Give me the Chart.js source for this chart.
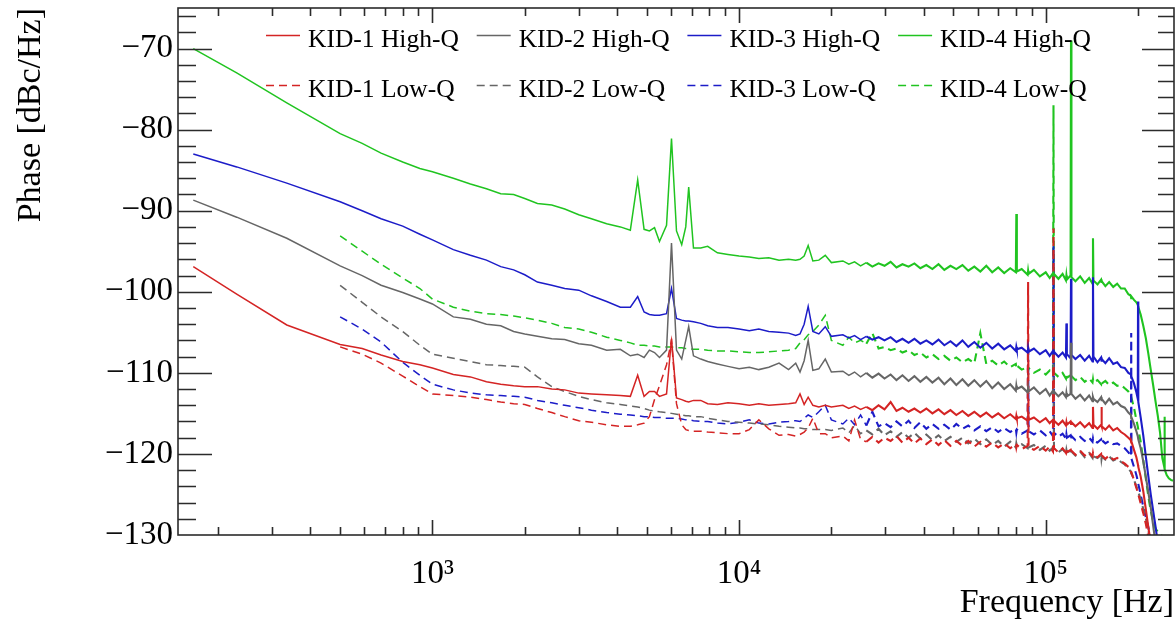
<!DOCTYPE html>
<html>
<head>
<meta charset="utf-8">
<title>Phase noise spectra</title>
<script src="https://cdn.jsdelivr.net/npm/chart.js@4/dist/chart.umd.min.js"></script>
<style>
  html, body { margin: 0; padding: 0; background: #ffffff; }
  #wrap { width: 1176px; height: 620px; position: relative; }
</style>
</head>
<body>
<div id="wrap"><canvas id="psd" width="1176" height="620"></canvas></div>
<script>
// Frequency grid shared by all spectra [Hz]
const freqHz = [
  166, 230, 335, 500, 590, 680, 800, 910, 1000, 1170,
  1330, 1500, 1670, 1840, 2000, 2200, 2450, 2700, 3000, 3300,
  3700, 4100, 4420, 4670, 4900, 5100, 5300, 5500, 5800, 6020,
  6250, 6500, 6700, 6850, 7100, 7500, 7900, 8500, 9200, 10000,
  10800, 11600, 12500, 13500, 14500, 15300, 15800, 16300, 16800, 17400,
  18200, 19100, 20000, 21800, 22800, 23800, 24900, 26000, 27200, 28500,
  29800, 31200, 32600, 34100, 35700, 37300, 39000, 40800, 42700, 44700,
  46700, 48900, 51100, 53500, 55900, 58500, 61200, 64000, 66900, 70000,
  73200, 76600, 79900, 80200, 80500, 83500, 87300, 87600, 87900, 91500,
  95700, 100000, 103000, 105600, 106000, 106400, 110000, 113500, 116400, 116800,
  117200, 120500, 120900, 121300, 125000, 129500, 134000, 138500, 142100, 142600,
  143100, 147500, 151600, 152000, 152400, 156500, 161000, 166000, 171000, 176000,
  181000, 186000, 189600, 190000, 190400, 194000, 197500, 199600, 200000, 200400,
  204000, 208000, 212000, 216000, 220000, 224000, 228000, 232000, 236000, 240000,
  243500, 244000, 244500, 248000, 252000, 256000, 260000
];
// Low-Q spectra start at this grid index (500 Hz)
const LOWQ_START = 3;

// Phase noise [dBc/Hz], High-Q resonators
const kid1HighQ = [
  -96.9, -100.3, -104.1, -106.5, -107.0, -107.8, -108.6, -109.0, -109.4, -110.2,
  -110.5, -111.1, -111.4, -111.6, -111.7, -111.7, -112.0, -112.1, -112.5, -112.6,
  -112.7, -112.8, -112.9, -110.3, -112.9, -112.3, -112.3, -112.9, -112.6, -105.8,
  -113.1, -113.3, -113.5, -113.6, -113.4, -113.4, -113.8, -113.9, -113.7, -113.8,
  -114.0, -113.8, -114.0, -113.9, -113.8, -113.7, -112.6, -113.9, -113.0, -114.0,
  -114.2, -114.0, -114.2, -114.0, -114.4, -114.1, -114.5, -114.2, -114.6, -114.0,
  -114.5, -113.6, -114.7, -114.3, -114.8, -114.4, -114.9, -114.4, -115.0, -114.5,
  -115.1, -114.6, -115.2, -114.7, -115.3, -114.8, -115.4, -114.9, -115.5, -115.0,
  -115.6, -115.1, -115.7, -115.3, -115.6, -115.4, -115.9, -115.4, -115.8, -115.5,
  -116.1, -115.6, -116.2, -115.8, -116.0, -115.9, -116.4, -115.9, -116.5, -116.1,
  -116.4, -116.0, -116.3, -116.1, -116.6, -116.1, -116.7, -116.2, -116.8, -114.2,
  -116.4, -116.9, -116.4, -114.2, -116.6, -117.0, -116.5, -117.1, -116.8, -117.3,
  -117.6, -118.0, -118.3, -118.6, -118.5, -119.5, -120.4, -121.2, -121.4, -121.6,
  -122.8, -124.6, -126.8, -129.0, -131.0, -133.0, -135.0, -136.0, -137.0, -138.0,
  -139.0, -140.0, -140.0, -141.0, -142.0, -143.0, -144.0
];
const kid2HighQ = [
  -88.7, -90.8, -93.4, -96.8, -98.0, -99.2, -100.1, -100.9, -101.5, -103.1,
  -103.4, -104.0, -104.2, -104.9, -105.2, -105.5, -105.8, -105.9, -106.4, -106.6,
  -107.2, -107.1, -107.9, -107.7, -108.1, -107.2, -107.5, -108.1, -107.2, -94.0,
  -107.2, -108.3, -106.0, -104.3, -107.9, -108.3, -108.6, -108.9, -109.2, -109.5,
  -109.3, -109.6, -109.3, -108.8, -109.6, -108.8, -109.9, -108.5, -106.0, -109.7,
  -109.5, -108.3, -109.9, -109.8, -110.3, -109.9, -110.5, -110.0, -110.6, -110.1,
  -110.7, -110.2, -110.9, -110.3, -111.0, -110.4, -111.1, -110.5, -111.2, -110.6,
  -111.4, -110.7, -111.5, -110.8, -111.6, -110.9, -111.7, -111.0, -111.9, -111.2,
  -112.0, -111.4, -112.2, -111.6, -112.0, -111.7, -112.4, -111.9, -112.3, -111.8,
  -112.6, -112.0, -112.8, -112.2, -112.5, -112.3, -112.9, -112.4, -113.0, -112.5,
  -112.9, -112.6, -106.3, -112.6, -113.2, -112.7, -113.4, -112.8, -113.5, -113.0,
  -113.2, -113.6, -113.0, -113.5, -113.2, -113.8, -113.2, -113.9, -113.6, -114.1,
  -114.3, -114.9, -115.2, -115.6, -115.5, -116.3, -117.2, -117.8, -118.0, -118.2,
  -119.3, -120.9, -122.8, -124.7, -126.6, -128.8, -131.0, -133.0, -135.0, -136.0,
  -137.0, -137.0, -137.0, -138.0, -139.0, -140.0, -141.0
];
const kid3HighQ = [
  -83.0, -84.6, -86.6, -88.9, -90.0, -91.0, -91.9, -92.9, -93.6, -94.8,
  -95.5, -96.1, -96.9, -97.3, -97.9, -98.8, -99.2, -99.6, -99.8, -100.5,
  -101.2, -101.9, -101.9, -100.6, -102.5, -102.8, -102.9, -102.9, -102.7, -99.6,
  -103.3, -103.5, -103.6, -103.6, -103.7, -103.9, -104.2, -104.4, -104.4, -104.6,
  -104.8, -104.6, -104.9, -105.0, -105.1, -105.4, -105.2, -104.0, -101.8, -104.9,
  -105.2, -104.3, -105.5, -105.3, -105.7, -105.4, -105.9, -105.5, -105.9, -105.6,
  -106.0, -105.6, -106.2, -105.8, -106.3, -105.8, -106.4, -106.0, -106.5, -105.9,
  -106.6, -106.1, -106.7, -106.0, -106.8, -106.2, -106.9, -106.3, -107.0, -106.4,
  -107.1, -106.6, -107.3, -106.8, -107.1, -106.9, -107.5, -107.0, -107.4, -107.0,
  -107.7, -107.2, -107.9, -107.3, -107.6, -107.4, -108.0, -107.5, -108.1, -103.9,
  -107.7, -108.2, -98.4, -107.8, -108.3, -107.8, -108.5, -107.9, -108.6, -98.2,
  -108.0, -108.7, -108.1, -108.6, -108.3, -108.8, -108.2, -108.9, -108.7, -109.3,
  -109.4, -110.0, -110.2, -110.6, -110.5, -111.3, -112.4, -113.2, -101.2, -113.6,
  -115.5, -117.7, -120.3, -122.7, -125.0, -127.0, -128.9, -131.0, -133.0, -135.0,
  -136.0, -136.0, -136.0, -137.0, -138.0, -139.0, -140.0
];
const kid4HighQ = [
  -70.0, -73.0, -76.7, -80.5, -81.7, -82.9, -84.0, -84.8, -85.2, -86.0,
  -86.7, -87.3, -87.9, -88.0, -88.5, -89.1, -89.3, -89.8, -90.5, -91.0,
  -91.6, -92.0, -92.4, -86.2, -92.3, -92.5, -92.1, -93.8, -91.8, -81.1,
  -92.5, -94.2, -92.0, -87.1, -94.6, -94.6, -94.4, -95.2, -95.4, -95.6,
  -95.7, -95.9, -95.8, -96.1, -96.0, -96.1, -96.0, -95.6, -94.3, -96.2,
  -96.1, -95.5, -96.4, -96.2, -96.6, -96.3, -96.8, -96.4, -96.9, -96.5,
  -96.8, -96.3, -97.0, -96.6, -96.9, -96.5, -97.1, -96.7, -97.2, -96.6,
  -97.3, -96.8, -97.2, -96.7, -97.4, -96.9, -97.5, -96.8, -97.6, -97.0,
  -97.7, -97.1, -97.6, -90.4, -97.5, -97.2, -97.9, -97.4, -97.8, -97.3,
  -98.1, -97.6, -98.3, -97.7, -98.0, -97.8, -98.4, -97.8, -98.6, -98.0,
  -98.5, -98.0, -69.0, -98.2, -98.7, -98.1, -98.9, -98.3, -99.0, -93.4,
  -98.6, -99.1, -98.5, -98.9, -98.7, -99.3, -98.8, -99.4, -99.0, -99.6,
  -99.6, -100.3, -100.5, -100.8, -100.6, -101.0, -101.3, -101.6, -101.8, -101.9,
  -102.8, -104.2, -105.7, -107.6, -109.6, -111.5, -113.5, -115.3, -117.4, -120.5,
  -121.6, -115.4, -121.9, -122.6, -123.0, -123.2, -123.3
];

// Phase noise [dBc/Hz], Low-Q resonators (from 500 Hz)
const kid1LowQ = [
  -106.8, -107.7, -108.8, -110.4, -111.7, -112.6, -112.8,
  -113.0, -113.3, -113.6, -113.8, -113.9, -114.4, -114.9, -115.4, -115.9, -116.1,
  -116.4, -116.6, -116.6, -116.4, -116.2, -115.4, -113.3, -111.6, -109.0, -106.0,
  -113.8, -116.4, -117.0, -117.1, -117.2, -117.2, -117.3, -117.4, -117.5, -117.5,
  -117.0, -115.8, -116.9, -117.7, -117.6, -117.8, -117.6, -117.3, -116.8, -115.6,
  -117.5, -117.5, -118.0, -117.8, -118.4, -115.8, -118.2, -118.5, -117.9, -118.6,
  -118.0, -118.4, -117.8, -118.6, -118.0, -118.7, -118.1, -118.8, -118.2, -118.9,
  -118.3, -119.0, -118.4, -119.0, -118.4, -119.1, -118.5, -119.1, -118.6, -119.2,
  -118.7, -119.3, -118.8, -119.2, -118.9, -119.4, -119.0, -98.8, -119.1, -119.5,
  -119.0, -119.6, -119.1, -119.7, -92.2, -119.3, -119.8, -119.3, -119.9, -119.4,
  -119.8, -119.5, -120.0, -119.6, -120.1, -119.6, -120.2, -119.8, -120.3, -119.9,
  -120.2, -120.4, -120.0, -120.5, -120.2, -120.6, -120.2, -120.7, -120.5, -120.9,
  -121.2, -121.6, -122.0, -122.3, -122.3, -123.2, -124.2, -124.7, -124.9, -125.0,
  -126.1, -127.3, -128.6, -130.2, -131.5, -132.5, -133.5, -134.5, -135.5, -136.0,
  -137.0, -137.0, -137.0, -138.0, -139.0, -140.0, -141.0
];
const kid2LowQ = [
  -99.2, -101.3, -103.1, -104.9, -106.6, -107.7, -108.2,
  -108.6, -109.0, -109.1, -109.2, -109.3, -110.5, -111.7, -112.3, -112.9, -113.3,
  -113.7, -113.9, -114.1, -114.2, -114.4, -114.6, -114.7, -114.8, -114.9, -115.0,
  -115.1, -115.2, -115.3, -115.3, -115.4, -115.4, -115.6, -115.8, -116.0, -116.1,
  -116.2, -116.3, -116.4, -116.6, -116.7, -116.8, -116.8, -116.9, -116.9, -117.0,
  -117.0, -117.0, -117.1, -116.8, -117.4, -116.5, -117.5, -117.1, -117.6, -116.9,
  -117.7, -117.2, -117.9, -117.3, -118.0, -117.4, -118.1, -117.6, -118.3, -117.7,
  -118.4, -117.9, -118.5, -118.0, -118.7, -118.1, -118.8, -118.2, -118.9, -118.4,
  -119.1, -118.5, -119.2, -118.7, -119.0, -118.8, -119.3, -118.9, -119.2, -118.9,
  -119.5, -119.0, -119.6, -119.2, -108.0, -119.3, -119.8, -119.4, -119.9, -119.5,
  -119.8, -119.6, -120.1, -119.7, -120.2, -119.7, -120.4, -119.9, -120.5, -120.0,
  -120.3, -120.5, -120.1, -120.6, -120.3, -120.7, -120.3, -120.8, -120.6, -121.0,
  -121.3, -121.8, -122.2, -122.4, -122.4, -123.2, -124.0, -124.5, -124.6, -124.7,
  -125.6, -126.8, -127.9, -129.4, -131.0, -132.0, -133.0, -134.0, -135.0, -136.0,
  -137.0, -137.0, -137.0, -138.0, -139.0, -140.0, -141.0
];
const kid3LowQ = [
  -103.1, -104.6, -106.2, -108.7, -110.3, -111.4, -112.1,
  -112.5, -112.7, -112.8, -112.9, -113.0, -113.4, -113.7, -114.0, -114.3, -114.6,
  -114.9, -115.1, -115.2, -115.3, -115.4, -115.4, -115.5, -115.5, -115.6, -115.6,
  -115.6, -115.7, -115.8, -115.8, -115.9, -116.0, -116.0, -116.2, -116.3, -116.1,
  -115.8, -116.2, -116.3, -116.1, -116.0, -115.9, -116.0, -115.6, -115.2, -115.5,
  -114.8, -114.0, -115.8, -116.3, -115.6, -116.4, -115.2, -116.5, -114.8, -116.6,
  -116.2, -116.7, -116.0, -116.6, -115.9, -116.8, -116.1, -116.9, -116.3, -116.9,
  -116.4, -117.0, -116.3, -116.9, -116.5, -117.1, -116.6, -117.2, -116.7, -117.3,
  -116.8, -117.3, -116.9, -117.4, -117.0, -117.5, -117.1, -107.2, -117.2, -117.6,
  -117.1, -117.7, -117.2, -117.8, -94.4, -117.4, -117.9, -117.5, -118.1, -117.6,
  -118.0, -117.7, -118.2, -117.8, -118.3, -117.9, -118.4, -118.0, -118.5, -118.1,
  -118.4, -118.6, -118.2, -118.6, -118.3, -118.7, -118.4, -118.8, -118.7, -119.0,
  -119.3, -119.8, -120.3, -105.1, -120.6, -121.6, -122.6, -123.3, -123.5, -123.7,
  -125.0, -126.5, -127.8, -129.0, -130.5, -132.0, -133.0, -134.0, -135.0, -136.0,
  -137.0, -137.0, -137.0, -138.0, -139.0, -140.0, -141.0
];
const kid4LowQ = [
  -93.1, -95.0, -96.6, -98.3, -99.6, -100.9, -101.9,
  -102.4, -102.7, -102.8, -103.0, -103.2, -103.5, -103.9, -104.4, -104.6, -105.0,
  -105.6, -106.0, -106.3, -106.6, -106.6, -106.7, -106.7, -106.8, -106.8, -106.8,
  -106.9, -106.9, -107.0, -107.0, -107.1, -107.1, -107.2, -107.3, -107.3, -107.4,
  -107.5, -107.5, -107.4, -107.3, -107.2, -107.0, -106.3, -105.9, -105.3, -104.9,
  -104.1, -102.9, -106.0, -106.6, -105.6, -106.3, -106.0, -106.4, -105.1, -107.0,
  -106.8, -107.2, -107.0, -107.5, -107.2, -107.8, -107.5, -108.1, -107.7, -108.3,
  -107.9, -108.5, -108.1, -108.7, -108.3, -108.8, -105.1, -108.9, -108.5, -109.1,
  -108.6, -109.3, -108.9, -109.4, -109.1, -109.6, -109.3, -109.8, -109.4, -110.0,
  -109.6, -110.2, -109.7, -110.1, -77.0, -110.0, -110.5, -110.0, -110.7, -110.2,
  -110.6, -110.3, -110.8, -110.4, -110.9, -110.5, -111.1, -110.7, -111.2, -110.8,
  -111.2, -110.9, -111.4, -111.0, -111.3, -111.0, -111.5, -111.2, -111.6, -111.5,
  -111.9, -112.3, -112.8, -113.0, -113.1, -114.3, -115.8, -116.6, -116.8, -117.0,
  -118.5, -120.8, -123.0, -125.2, -127.0, -128.3, -129.2, -129.6, -129.8, -130.2,
  -130.5, -130.5, -130.5, -130.8, -131.0, -131.5, -132.0
];

// Axis ranges and decade labels
const X_MIN = 148, X_MAX = 262000;
const Y_MIN = -130, Y_MAX = -65;
const decadeLabels = { 2: '10\u00B2', 3: '10\u00B3', 4: '10\u2074', 5: '10\u2075' };

const SERIF = "'Liberation Serif', 'Times New Roman', serif";
const COLORS = { kid1: '#d42424', kid2: '#666666', kid3: '#1c1cc8', kid4: '#20c420' };
const DASH = [8, 5];
// Above this frequency the spectra are densely sampled and drawn as a heavier trace
const DENSE_FROM_HZ = 26000;

function toPoints(values, offset) {
  return values.map((v, i) => ({ x: freqHz[i + offset], y: v }));
}

function series(label, values, offset, color, dashed) {
  return {
    label,
    data: toPoints(values, offset),
    borderColor: color,
    backgroundColor: color,
    borderWidth: 1.5,
    borderDash: dashed ? DASH : [],
    pointRadius: 0,
    tension: 0,
    fill: false,
    segment: {
      borderWidth: ctx => (ctx.p0.parsed.x >= DENSE_FROM_HZ ? 2.1 : undefined)
    }
  };
}

const datasets = [
  series('KID-1 High-Q', kid1HighQ, 0, COLORS.kid1, false),
  series('KID-2 High-Q', kid2HighQ, 0, COLORS.kid2, false),
  series('KID-3 High-Q', kid3HighQ, 0, COLORS.kid3, false),
  series('KID-4 High-Q', kid4HighQ, 0, COLORS.kid4, false),
  series('KID-1 Low-Q', kid1LowQ, LOWQ_START, COLORS.kid1, true),
  series('KID-2 Low-Q', kid2LowQ, LOWQ_START, COLORS.kid2, true),
  series('KID-3 Low-Q', kid3LowQ, LOWQ_START, COLORS.kid3, true),
  series('KID-4 Low-Q', kid4LowQ, LOWQ_START, COLORS.kid4, true)
];

const isDecade = v => Math.abs(Math.log10(v) - Math.round(Math.log10(v))) < 1e-9;

// Frame with inward ticks on all four sides
const frameTicks = {
  id: 'frameTicks',
  afterDatasetsDraw(chart) {
    const { ctx, chartArea: a, scales: { x, y } } = chart;
    ctx.save();
    ctx.strokeStyle = '#2b2b2b';
    ctx.lineWidth = 1.6;
    ctx.strokeRect(a.left, a.top, a.right - a.left, a.bottom - a.top);
    ctx.beginPath();
    x.ticks.forEach(t => {
      const px = Math.round(x.getPixelForValue(t.value)) + 0.5;
      const len = isDecade(t.value) ? 15 : 8;
      ctx.moveTo(px, a.bottom); ctx.lineTo(px, a.bottom - len);
      ctx.moveTo(px, a.top); ctx.lineTo(px, a.top + len);
    });
    y.ticks.forEach(t => {
      const v = Math.round(t.value);
      if (v <= Y_MIN || v >= Y_MAX) return;
      const py = Math.round(y.getPixelForValue(v)) + 0.5;
      const major = v % 10 === 0;
      ctx.moveTo(a.left, py); ctx.lineTo(a.left + (major ? 34 : 18), py);
      ctx.moveTo(a.right, py); ctx.lineTo(a.right - (major ? 32 : 16), py);
    });
    ctx.stroke();
    ctx.restore();
  }
};

// Two-row key drawn inside the plot frame
const insetLegend = {
  id: 'insetLegend',
  afterDraw(chart, args, opts) {
    const ctx = chart.ctx;
    ctx.save();
    ctx.font = opts.font;
    ctx.textBaseline = 'alphabetic';
    ctx.textAlign = 'left';
    chart.data.datasets.forEach((ds, i) => {
      const col = i % 4, row = Math.floor(i / 4);
      const x0 = opts.left + col * opts.colStep;
      const base = opts.baseline + row * opts.rowStep;
      const ly = base - opts.lineRise;
      ctx.strokeStyle = ds.borderColor;
      ctx.lineWidth = ds.borderWidth;
      ctx.setLineDash(ds.borderDash || []);
      ctx.beginPath();
      ctx.moveTo(x0, ly);
      ctx.lineTo(x0 + opts.lineLen, ly);
      ctx.stroke();
      ctx.setLineDash([]);
      ctx.fillStyle = '#000000';
      ctx.fillText(ds.label, x0 + opts.lineLen + opts.gap, base);
    });
    ctx.restore();
  }
};

new Chart(document.getElementById('psd'), {
  type: 'line',
  data: { datasets },
  plugins: [frameTicks, insetLegend],
  options: {
    responsive: false,
    animation: false,
    events: [],
    parsing: true,
    layout: { padding: { top: 8, right: 2, left: 0, bottom: 0 } },
    plugins: {
      legend: { display: false },
      tooltip: { enabled: false },
      insetLegend: {
        font: "25.5px 'Liberation Serif', 'Times New Roman', serif",
        left: 266, colStep: 210.7, baseline: 46.5, rowStep: 50,
        lineLen: 34, gap: 8, lineRise: 11
      }
    },
    scales: {
      x: {
        type: 'logarithmic',
        min: X_MIN,
        max: X_MAX,
        grid: { display: false, drawTicks: false },
        border: { display: false },
        afterBuildTicks(scale) {
          const ticks = [];
          for (let e = 2; e <= 5; e++) {
            for (let m = 1; m <= 9; m++) {
              const v = m * Math.pow(10, e);
              if (v >= X_MIN && v <= X_MAX) ticks.push({ value: v, major: m === 1 });
            }
          }
          scale.ticks = ticks;
        },
        afterFit(scale) {
          scale.height = 85;
          scale.paddingLeft = 0;
          scale.paddingRight = 0;
        },
        ticks: {
          autoSkip: false,
          maxRotation: 0,
          minRotation: 0,
          padding: 20,
          color: '#000000',
          font: { family: SERIF, size: 33, lineHeight: 1.2 },
          callback(value) {
            if (!isDecade(value)) return '';
            return decadeLabels[Math.round(Math.log10(value))];
          }
        },
        title: {
          display: true,
          text: 'Frequency [Hz]',
          align: 'end',
          color: '#000000',
          font: { family: SERIF, size: 34, lineHeight: 1 },
          padding: { top: 0, bottom: 0 }
        }
      },
      y: {
        type: 'linear',
        min: Y_MIN,
        max: Y_MAX,
        grid: { display: false, drawTicks: false },
        border: { display: false },
        afterBuildTicks(scale) {
          const ticks = [];
          for (let v = Y_MIN; v <= Y_MAX - 1; v += 2) ticks.push({ value: v });
          scale.ticks = ticks;
        },
        afterFit(scale) {
          scale.width = 178;
          scale.paddingTop = 0;
          scale.paddingBottom = 0;
        },
        ticks: {
          autoSkip: false,
          padding: 5,
          color: '#000000',
          font: { family: SERIF, size: 33, lineHeight: 1.2 },
          callback(value) {
            const v = Math.round(value);
            return v % 10 === 0 ? '\u2212' + Math.abs(v) : '';
          }
        },
        title: {
          display: true,
          text: 'Phase [dBc/Hz]',
          align: 'end',
          color: '#000000',
          font: { family: SERIF, size: 34, lineHeight: 1 },
          padding: { top: 14, bottom: 0 }
        }
      }
    }
  }
});
</script>
</body>
</html>
